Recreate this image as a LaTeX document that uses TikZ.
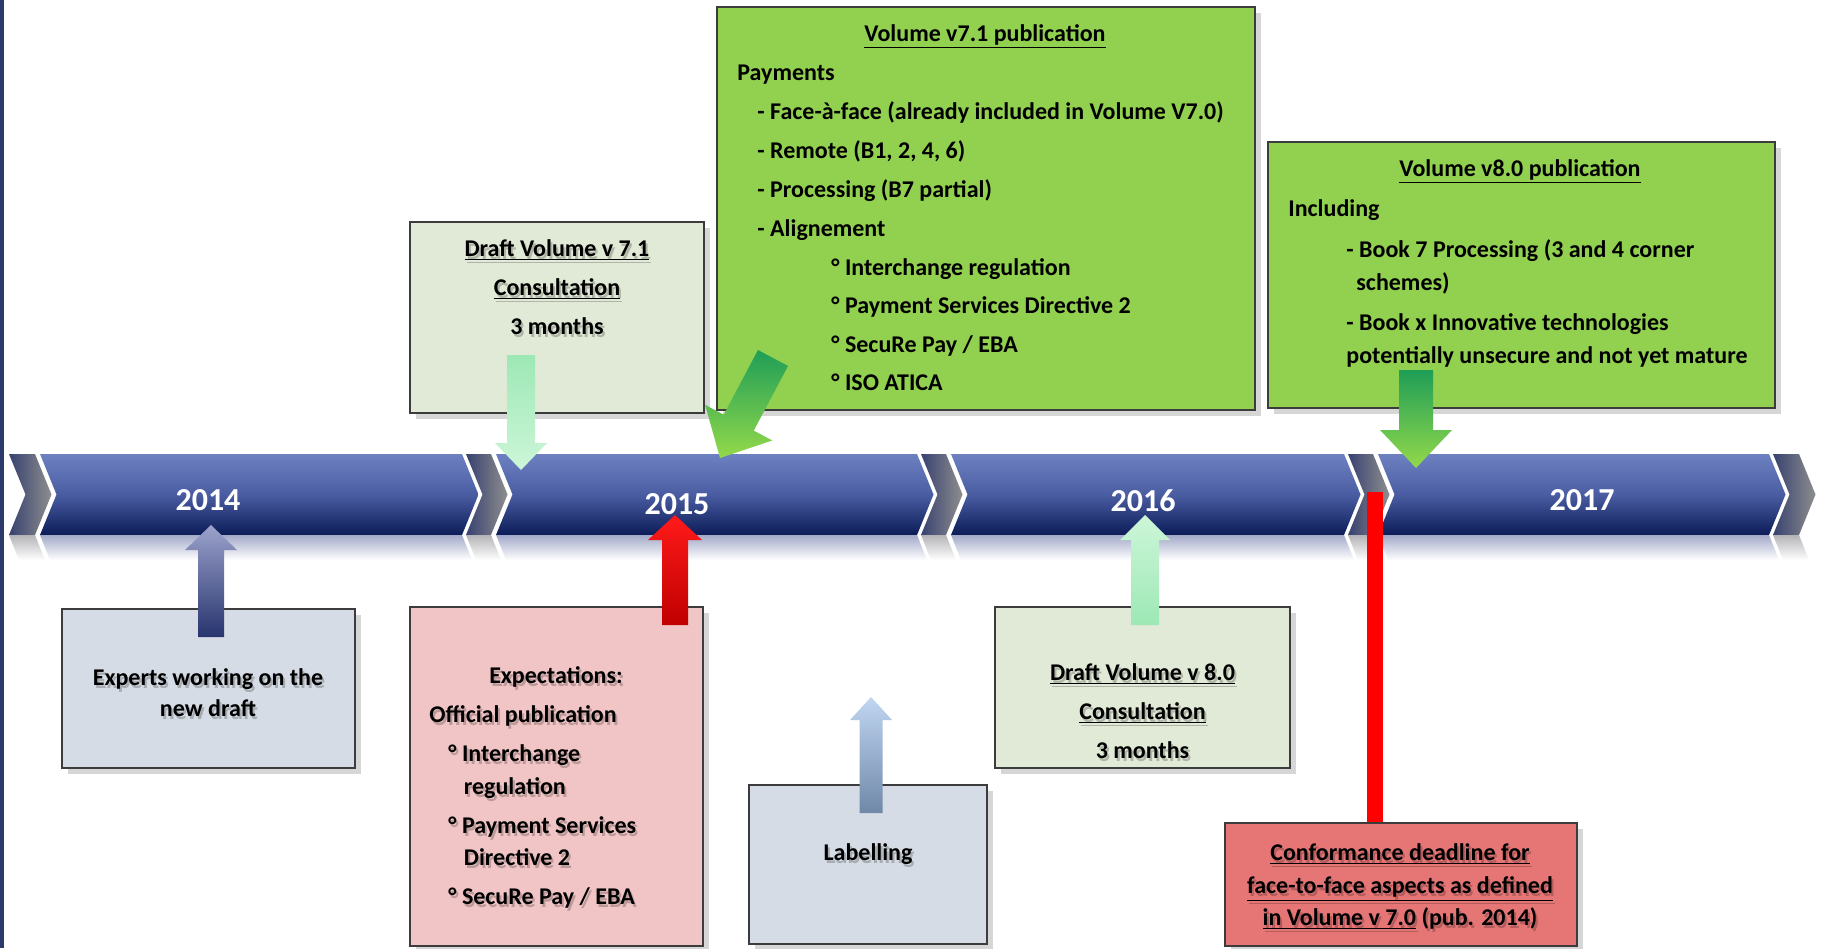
\documentclass[tikz,border=0pt]{standalone}
\usepackage{fontspec}
\setmainfont{Carlito}
\usetikzlibrary{calc,fit,shadows}
\definecolor{bandtop}{HTML}{6D81C1}
\definecolor{bandmid}{HTML}{4A5DA2}
\definecolor{bandbot}{HTML}{0C1C58}
\definecolor{sepdark}{HTML}{384270}
\definecolor{seplight}{HTML}{8E8E8E}
\definecolor{reflblue}{HTML}{A3AAC9}
\definecolor{reflgray}{HTML}{B4B4B8}
\definecolor{navyline}{HTML}{2B3A6B}
\definecolor{boxline}{HTML}{3C3C3C}
\definecolor{cgreen}{HTML}{92D050}
\definecolor{lgreen}{HTML}{E1EAD7}
\definecolor{lblue}{HTML}{D6DCE5}
\definecolor{lpink}{HTML}{F1C5C5}
\definecolor{cred}{HTML}{E67676}
\definecolor{mintA}{HTML}{9DE8B5}
\definecolor{mintB}{HTML}{CDF6D9}
\definecolor{dgreenA}{HTML}{1F9E57}
\definecolor{dgreenB}{HTML}{93D94A}
\definecolor{navyA}{HTML}{9BA3CC}
\definecolor{navyB}{HTML}{28346E}
\definecolor{redA}{HTML}{FF1A1A}
\definecolor{redB}{HTML}{C00000}
\definecolor{skyA}{HTML}{C0D6F2}
\definecolor{skyB}{HTML}{7088A8}
\definecolor{barred}{HTML}{FF0000}
\tikzset{
  txt/.style={font=\fontsize{12}{14}\selectfont\bfseries, inner sep=0pt, text=black},
  yr/.style={font=\fontsize{16}{18}\selectfont\bfseries, inner sep=0pt, text=white, anchor=base},
  box/.style={draw=boxline, line width=1pt, inner sep=0pt,
    drop shadow={opacity=.16, shadow xshift=3pt, shadow yshift=-3pt, fill=black}},
}
% shadowed text line: name, anchor, x, y, text
\newcommand{\stl}[5]{%
  \node[txt, anchor=#2, text opacity=.22] (#1s) at (#3+2,#4+3) {#5};
  \node[txt, anchor=#2] (#1) at (#3,#4) {#5};}
% chevron segment: left, right, style
\newcommand{\chev}[3]{%
  \path[#3] (#1,454) -- (#2,454) -- (#2+16.5,494.5) -- (#2,535) -- (#1,535) -- (#1+16.5,494.5) -- cycle;}
\newcommand{\refl}[3]{%
  \path[#3] (#1,535) -- (#2,535) -- (#2+10,560) -- (#1+10,560) -- cycle;}
% block arrow: start, tip, half shaft, half head, head length, style
\newcommand{\barrow}[6]{%
  \coordinate (bah) at ($(#2)!#5!(#1)$);
  \path[#6] (#2) -- ($(bah)!#4!90:(#2)$) -- ($(bah)!#3!90:(#2)$) -- ($(#1)!#3!90:(#2)$)
    -- ($(#1)!#3!-90:(#2)$) -- ($(bah)!#3!-90:(#2)$) -- ($(bah)!#4!-90:(#2)$) -- cycle;}
\begin{document}
\begin{tikzpicture}[x=0.5pt,y=-0.5pt]
\useasboundingbox (0,0) rectangle (1824,948);
\fill[white] (0,0) rectangle (1824,948);
\fill[navyline] (0,0) rectangle (3.5,948);

% timeline band
\tikzset{bseg/.style={top color=bandtop, bottom color=bandbot, middle color=bandmid},
         gseg/.style={left color=sepdark, right color=seplight},
         rb/.style={top color=reflblue, bottom color=white},
         rg/.style={top color=reflgray, bottom color=white}}
\chev{9}{35}{gseg}
\chev{40}{462}{bseg}
\chev{466}{491}{gseg}
\chev{496}{917}{bseg}
\chev{921}{946}{gseg}
\chev{951}{1344}{bseg}
\chev{1348}{1373}{gseg}
\chev{1378}{1769}{bseg}
\chev{1773}{1799}{gseg}
\refl{9}{35}{rg}
\refl{40}{462}{rb}
\refl{466}{491}{rg}
\refl{496}{917}{rb}
\refl{921}{946}{rg}
\refl{951}{1344}{rb}
\refl{1348}{1373}{rg}
\refl{1378}{1769}{rb}
\refl{1773}{1799}{rg}

\node[yr] (y2014) at (208,510) {2014};
\node[yr] (y2015) at (677,514) {2015};
\node[yr] (y2016) at (1143,511) {2016};
\node[yr] (y2017) at (1582,510) {2017};

% boxes
\node[box, fill=lgreen, fit={(410,222) (704,413)}] (d71) {};
\node[box, fill=cgreen, fit={(717,7) (1255,410)}] (v71) {};
\node[box, fill=cgreen, fit={(1268,142) (1775,408)}] (v80) {};
\node[box, fill=lblue, fit={(62,609) (355,768)}] (exp) {};
\node[box, fill=lpink, fit={(410,607) (703,946)}] (expect) {};
\node[box, fill=lblue, fit={(749,785) (987,944)}] (lab) {};
\node[box, fill=lgreen, fit={(995,607) (1290,768)}] (d80) {};
\node[box, fill=cred, fit={(1225,823) (1577,946)}] (conf) {};

% texts: Volume v7.1
\node[txt, anchor=base] (v71t) at (985,41) {\underline{Volume v7.1 publication}};
\node[txt, anchor=base west] (v71a) at (737,80) {Payments};
\node[txt, anchor=base west] (v71b) at (757,119) {- Face-à-face (already included in Volume V7.0)};
\node[txt, anchor=base west] (v71c) at (757,158) {- Remote (B1, 2, 4, 6)};
\node[txt, anchor=base west] (v71d) at (757,197) {- Processing (B7 partial)};
\node[txt, anchor=base west] (v71e) at (757,236) {- Alignement};
\node[txt, anchor=base west] (v71f) at (831,275) {° Interchange regulation};
\node[txt, anchor=base west] (v71g) at (831,313.5) {° Payment Services Directive 2};
\node[txt, anchor=base west] (v71h) at (831,352) {° SecuRe Pay / EBA};
\node[txt, anchor=base west] (v71i) at (831,390) {° ISO ATICA};

% Volume v8.0
\node[txt, anchor=base] (v80t) at (1520,176) {\underline{Volume v8.0 publication}};
\node[txt, anchor=base west] (v80a) at (1288,216) {Including};
\node[txt, anchor=base west] (v80b) at (1346,257) {- Book 7 Processing (3 and 4 corner};
\node[txt, anchor=base west] (v80c) at (1356,290) {schemes)};
\node[txt, anchor=base west] (v80d) at (1346,330) {- Book x Innovative technologies};
\node[txt, anchor=base west] (v80e) at (1346,363) {potentially unsecure and not yet mature};

% Draft 7.1
\stl{d71a}{base}{557}{256.5}{\underline{Draft Volume v 7.1}}
\stl{d71b}{base}{557}{295.5}{\underline{Consultation}}
\stl{d71c}{base}{557}{334.5}{3 months}

% Experts
\stl{expa}{base}{208}{685.5}{Experts working on the}
\stl{expb}{base}{208}{716.5}{new draft}

% Expectations
\stl{exa}{base}{556}{683.5}{Expectations:}
\stl{exb}{base west}{429}{722.5}{Official publication}
\stl{exc}{base west}{448}{761.5}{° Interchange}
\stl{exd}{base west}{463.5}{794.5}{regulation}
\stl{exe}{base west}{448}{833.5}{° Payment Services}
\stl{exf}{base west}{463.5}{865.5}{Directive 2}
\stl{exg}{base west}{448}{904.5}{° SecuRe Pay / EBA}

% Labelling
\stl{laba}{base}{868}{860.5}{Labelling}

% Draft 8.0
\stl{d80a}{base}{1142.5}{680.5}{\underline{Draft Volume v 8.0}}
\stl{d80b}{base}{1142.5}{719.5}{\underline{Consultation}}
\stl{d80c}{base}{1142.5}{758.5}{3 months}

% Conformance
\stl{cfa}{base}{1400}{860.5}{\underline{Conformance deadline for}}
\stl{cfb}{base}{1400}{893.5}{\underline{face-to-face aspects as defined}}
\stl{cfc}{base}{1400}{925.5}{\underline{in Volume v 7.0} (pub. 2014)}

% arrows
\coordinate (a1s) at (521,355);  \coordinate (a1t) at (521,470);
\coordinate (a2s) at (773,358);  \coordinate (a2t) at (720,458);
\coordinate (a3s) at (1416,370); \coordinate (a3t) at (1416,468);
\coordinate (a4s) at (211,637);  \coordinate (a4t) at (211,525);
\coordinate (a5s) at (675,625);  \coordinate (a5t) at (675,515);
\coordinate (a6s) at (1145,625); \coordinate (a6t) at (1145,515);
\coordinate (a7s) at (871,813);  \coordinate (a7t) at (871,697);

\barrow{a1s}{a1t}{7pt}{13pt}{13.5pt}{top color=mintA, bottom color=mintB}
\barrow{a2s}{a2t}{8.5pt}{19pt}{20pt}{top color=dgreenA, bottom color=dgreenB}
\barrow{a3s}{a3t}{8.5pt}{18pt}{19pt}{top color=dgreenA, bottom color=dgreenB}
\barrow{a4s}{a4t}{6.5pt}{13pt}{12.5pt}{top color=navyA, bottom color=navyB}
\barrow{a5s}{a5t}{6.5pt}{13.5pt}{12.5pt}{top color=redA, bottom color=redB}
\barrow{a6s}{a6t}{7pt}{12.5pt}{12.5pt}{top color=mintB, bottom color=mintA}
\barrow{a7s}{a7t}{5.75pt}{10.5pt}{11.5pt}{top color=skyA, bottom color=skyB}

% red deadline bar
\coordinate (rb1) at (1375,492);
\draw[barred, line width=8pt] (rb1) -- (rb1 |- conf.north);
\end{tikzpicture}
\end{document}
